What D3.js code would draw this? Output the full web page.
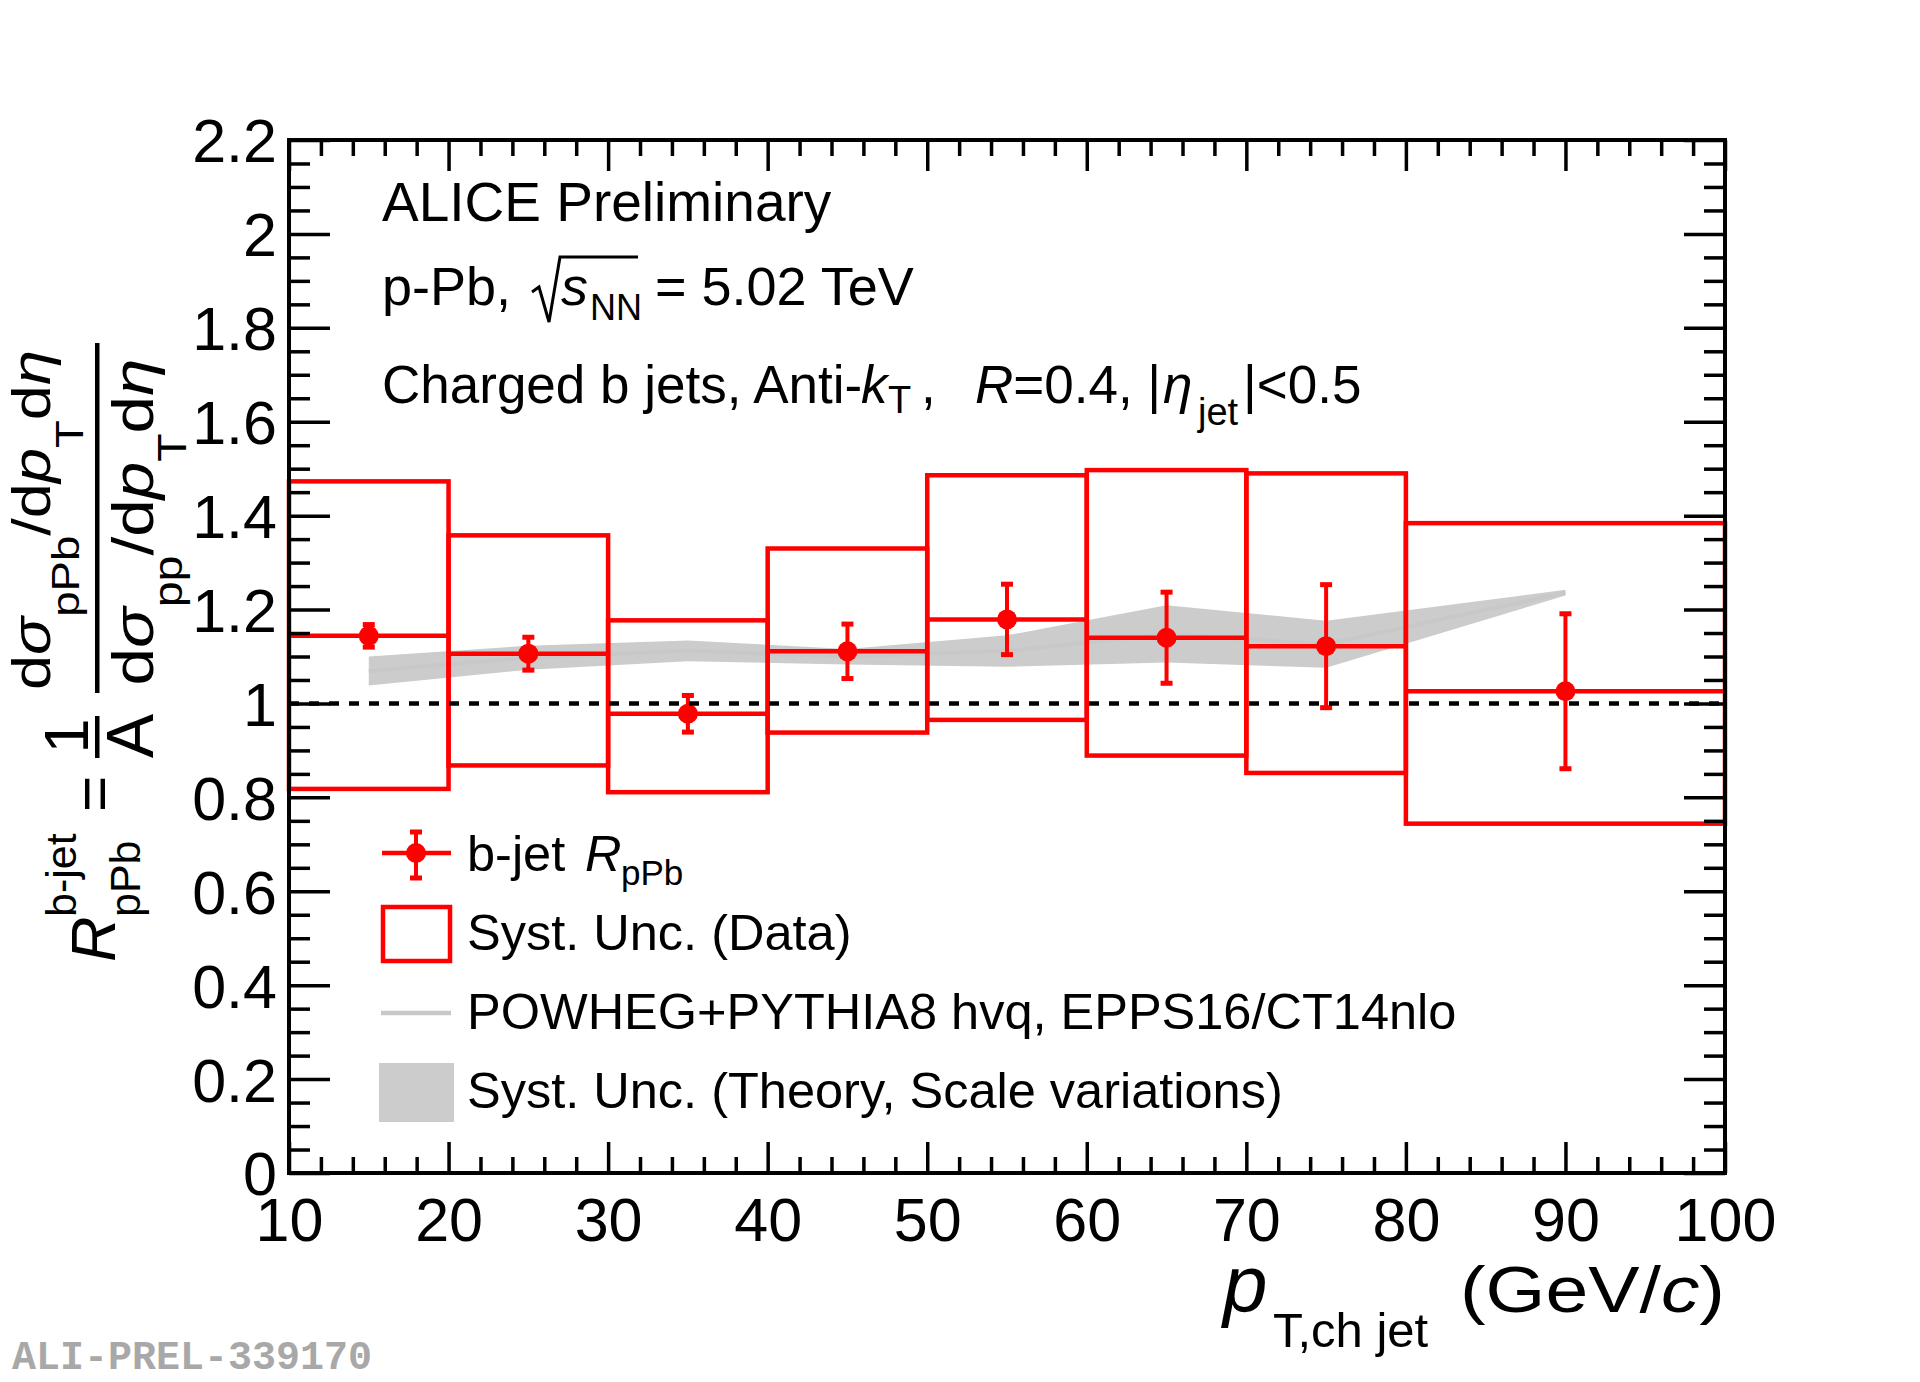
<!DOCTYPE html>
<html>
<head>
<meta charset="utf-8">
<script src="https://cdn.jsdelivr.net/npm/d3@7"></script>
<style>
  html, body { margin: 0; padding: 0; background: #ffffff; }
  svg { display: block; }
</style>
</head>
<body>
<svg id="chart" width="1920" height="1382"></svg>
<script>
// ---------------- data ----------------
const binLo    = [10, 20, 30, 40, 50, 60, 70, 80];
const binHi    = [20, 30, 40, 50, 60, 70, 80, 100];
const ptCenter = [15, 25, 35, 45, 55, 65, 75, 90];
const rpPb     = [1.144, 1.106, 0.978, 1.111, 1.179, 1.140, 1.122, 1.026];
const statErr  = [0.024, 0.035, 0.039, 0.058, 0.075, 0.097, 0.131, 0.165];
const systHi   = [1.473, 1.358, 1.177, 1.330, 1.486, 1.497, 1.490, 1.384];
const systLo   = [0.818, 0.868, 0.811, 0.938, 0.965, 0.889, 0.852, 0.744];

const theoryX       = [15, 25, 35, 45, 55, 65, 75, 90];
const theoryUp      = [1.100, 1.123, 1.134, 1.116, 1.145, 1.209, 1.176, 1.242];
const theoryLo      = [1.038, 1.072, 1.090, 1.083, 1.078, 1.087, 1.076, 1.230];
const theoryCentral = [1.069, 1.098, 1.112, 1.100, 1.112, 1.148, 1.126, 1.236];

const xTickValues = [10, 20, 30, 40, 50, 60, 70, 80, 90, 100];
const xTickLabels = ["10", "20", "30", "40", "50", "60", "70", "80", "90", "100"];
const yTickValues = [0, 0.2, 0.4, 0.6, 0.8, 1, 1.2, 1.4, 1.6, 1.8, 2, 2.2];
const yTickLabels = ["0", "0.2", "0.4", "0.6", "0.8", "1", "1.2", "1.4", "1.6", "1.8", "2", "2.2"];

// ---------------- layout ----------------
const X0 = 289, X1 = 1725, Y0 = 1173, Y1 = 140;
const RED = "#ff0000", BAND = "#cccccc", LINEGREY = "#c8c8c8";
const FONT = '"Liberation Sans", Arial, Helvetica, sans-serif';

const svg = d3.select("#chart").attr("font-family", FONT);
const x = d3.scaleLinear().domain([10, 100]).range([X0, X1]);
const y = d3.scaleLinear().domain([0, 2.2]).range([Y0, Y1]);

// theory band
const theory = theoryX.map((v, i) => ({ x: v, lo: theoryLo[i], up: theoryUp[i], c: theoryCentral[i] }));
svg.append("path").datum(theory)
  .attr("d", d3.area().x(d => x(d.x)).y0(d => y(d.lo)).y1(d => y(d.up)))
  .attr("fill", BAND);
svg.append("path").datum(theory)
  .attr("d", d3.line().x(d => x(d.x)).y(d => y(d.c)))
  .attr("fill", "none").attr("stroke", LINEGREY).attr("stroke-width", 4);

// data
const data = ptCenter.map((c, i) => ({
  c, lo: binLo[i], hi: binHi[i], v: rpPb[i], e: statErr[i], sh: systHi[i], sl: systLo[i]
}));

// systematic boxes
svg.append("g").selectAll("rect").data(data).join("rect")
  .attr("x", d => x(d.lo)).attr("width", d => x(d.hi) - x(d.lo))
  .attr("y", d => y(d.sh)).attr("height", d => y(d.sl) - y(d.sh))
  .attr("fill", "none").attr("stroke", RED).attr("stroke-width", 4.5);

// x error (bin width)
svg.append("g").selectAll("line").data(data).join("line")
  .attr("x1", d => x(d.lo)).attr("x2", d => x(d.hi))
  .attr("y1", d => y(d.v)).attr("y2", d => y(d.v))
  .attr("stroke", RED).attr("stroke-width", 4.5);

// stat error bars
const eb = svg.append("g");
eb.selectAll("line").data(data).join("line")
  .attr("x1", d => x(d.c)).attr("x2", d => x(d.c))
  .attr("y1", d => y(d.v - d.e)).attr("y2", d => y(d.v + d.e))
  .attr("stroke", RED).attr("stroke-width", 4);
eb.selectAll("rect.capT").data(data).join("rect").attr("class", "capT")
  .attr("x", d => x(d.c) - 6).attr("width", 12)
  .attr("y", d => y(d.v + d.e) - 2.5).attr("height", 5).attr("fill", RED);
eb.selectAll("rect.capB").data(data).join("rect").attr("class", "capB")
  .attr("x", d => x(d.c) - 6).attr("width", 12)
  .attr("y", d => y(d.v - d.e) - 2.5).attr("height", 5).attr("fill", RED);
eb.selectAll("circle").data(data).join("circle")
  .attr("cx", d => x(d.c)).attr("cy", d => y(d.v)).attr("r", 10).attr("fill", RED);

// unity dashed line
svg.append("line")
  .attr("x1", x(10)).attr("x2", x(100)).attr("y1", y(1)).attr("y2", y(1))
  .attr("stroke", "#000").attr("stroke-width", 4.5).attr("stroke-dasharray", "10,10");

// ---------------- axes ----------------
function isMultiple(v, step) { return Math.abs(v / step - Math.round(v / step)) < 1e-6; }
const yMinor = d3.range(0, 2.2001, 0.05).filter(v => !isMultiple(v, 0.2));
const xMinor = d3.range(10, 100.001, 2).filter(v => !isMultiple(v, 10));

function styleAxis(g) {
  g.select(".domain").remove();
  g.selectAll(".tick line").attr("stroke-width", 3.5);
  g.attr("font-size", 61).attr("font-family", FONT);
}

// left
svg.append("g").attr("transform", `translate(${X0},0)`)
  .call(d3.axisLeft(y).tickValues(yTickValues).tickSize(-41).tickPadding(12)
    .tickFormat((d, i) => yTickLabels[i]))
  .call(styleAxis)
  .call(g => g.selectAll(".tick text").attr("dy", "0.36em"));
svg.append("g").attr("transform", `translate(${X0},0)`)
  .call(d3.axisLeft(y).tickValues(yMinor).tickSize(-21).tickFormat(""))
  .call(styleAxis);
// right
svg.append("g").attr("transform", `translate(${X1},0)`)
  .call(d3.axisRight(y).tickValues(yTickValues).tickSize(-41).tickFormat(""))
  .call(styleAxis);
svg.append("g").attr("transform", `translate(${X1},0)`)
  .call(d3.axisRight(y).tickValues(yMinor).tickSize(-21).tickFormat(""))
  .call(styleAxis);
// bottom
svg.append("g").attr("transform", `translate(0,${Y0})`)
  .call(d3.axisBottom(x).tickValues(xTickValues).tickSize(-31).tickPadding(25)
    .tickFormat((d, i) => xTickLabels[i]))
  .call(styleAxis);
svg.append("g").attr("transform", `translate(0,${Y0})`)
  .call(d3.axisBottom(x).tickValues(xMinor).tickSize(-16).tickFormat(""))
  .call(styleAxis);
// top
svg.append("g").attr("transform", `translate(0,${Y1})`)
  .call(d3.axisTop(x).tickValues(xTickValues).tickSize(-31).tickFormat(""))
  .call(styleAxis);
svg.append("g").attr("transform", `translate(0,${Y1})`)
  .call(d3.axisTop(x).tickValues(xMinor).tickSize(-16).tickFormat(""))
  .call(styleAxis);

// frame
svg.append("rect").attr("x", X0).attr("y", Y1).attr("width", X1 - X0).attr("height", Y0 - Y1)
  .attr("fill", "none").attr("stroke", "#000").attr("stroke-width", 4);

// ---------------- x title ----------------
svg.append("text").attr("x", 1223).attr("y", 1311).attr("font-size", 80)
  .attr("font-style", "italic").text("p");
svg.append("text").attr("x", 1273).attr("y", 1347).attr("font-size", 49).text("T,ch jet");
const xt2 = svg.append("text").attr("x", 1460).attr("y", 1312).attr("font-size", 64)
  .attr("textLength", 265).attr("lengthAdjust", "spacingAndGlyphs");
xt2.append("tspan").text("(GeV/");
xt2.append("tspan").attr("font-style", "italic").text("c");
xt2.append("tspan").text(")");

// ---------------- y title ----------------
const yt = svg.append("g").attr("transform", "translate(115,962) rotate(-90)");
yt.append("text").attr("x", 0).attr("y", 0).attr("font-size", 63).attr("font-style", "italic").text("R");
yt.append("text").attr("x", 45).attr("y", -39).attr("font-size", 43).text("b-jet");
yt.append("text").attr("x", 45).attr("y", 25).attr("font-size", 43).text("pPb");
yt.append("text").attr("x", 150).attr("y", 0).attr("font-size", 62).text("=");
yt.append("text").attr("x", 226).attr("y", -27).attr("font-size", 63).attr("text-anchor", "middle").text("1");
yt.append("rect").attr("x", 204).attr("y", -20).attr("width", 42).attr("height", 4.5).attr("fill", "#000");
yt.append("text").attr("x", 226).attr("y", 38).attr("font-size", 66).attr("text-anchor", "middle").text("A");
yt.append("rect").attr("x", 269).attr("y", -20).attr("width", 350).attr("height", 4.5).attr("fill", "#000");

function fracPart(cx, base, len, sub, fs, sfs) {
  const t = yt.append("text").attr("x", cx).attr("y", base).attr("font-size", fs)
    .attr("text-anchor", "middle").attr("textLength", len).attr("lengthAdjust", "spacingAndGlyphs");
  t.append("tspan").text("d");
  t.append("tspan").attr("font-style", "italic").text("σ");
  t.append("tspan").attr("font-size", sfs).attr("dy", 29).text(sub);
  t.append("tspan").attr("dy", -29).text("/d");
  t.append("tspan").attr("font-style", "italic").text("p");
  t.append("tspan").attr("font-size", sfs).attr("dy", 33).text("T");
  t.append("tspan").attr("dy", -33).text("d");
  t.append("tspan").attr("font-style", "italic").text("η");
}
fracPart(442, -65, 340, "pPb", 54, 39);
fracPart(440, 38, 327, "pp", 58, 40);

// ---------------- header text ----------------
svg.append("text").attr("x", 382).attr("y", 221).attr("font-size", 55).text("ALICE Preliminary");

svg.append("text").attr("x", 382).attr("y", 305).attr("font-size", 54).text("p-Pb,");
svg.append("path").attr("d", "M532,292 L539,287 L549,322 L560,257 L638,257")
  .attr("fill", "none").attr("stroke", "#000").attr("stroke-width", 3).attr("stroke-linejoin", "miter");
svg.append("text").attr("x", 561).attr("y", 305).attr("font-size", 54).attr("font-style", "italic").text("s");
svg.append("text").attr("x", 590).attr("y", 320).attr("font-size", 36).text("NN");
svg.append("text").attr("x", 655).attr("y", 305).attr("font-size", 54).text("= 5.02 TeV");

const l3 = svg.append("text").attr("y", 403).attr("font-size", 53);
l3.append("tspan").attr("x", 382).text("Charged b jets, Anti-");
l3.append("tspan").attr("x", 861).attr("font-style", "italic").text("k");
l3.append("tspan").attr("x", 888).attr("font-size", 38).attr("dy", 10).text("T");
l3.append("tspan").attr("x", 921).attr("dy", -10).text(",");
l3.append("tspan").attr("x", 975).attr("font-style", "italic").text("R");
l3.append("tspan").text("=0.4, |");
l3.append("tspan").attr("x", 1163).attr("font-style", "italic").text("η");
l3.append("tspan").attr("x", 1198).attr("font-size", 38).attr("dy", 22).text("jet");
l3.append("tspan").attr("x", 1243).attr("dy", -22).text("|<0.5");

// ---------------- legend ----------------
const lg = svg.append("g");
// entry 1
lg.append("line").attr("x1", 382).attr("x2", 451).attr("y1", 853).attr("y2", 853)
  .attr("stroke", RED).attr("stroke-width", 4.5);
lg.append("line").attr("x1", 416).attr("x2", 416).attr("y1", 832).attr("y2", 878)
  .attr("stroke", RED).attr("stroke-width", 4);
lg.append("rect").attr("x", 410).attr("y", 829.5).attr("width", 12).attr("height", 5).attr("fill", RED);
lg.append("rect").attr("x", 410).attr("y", 875.5).attr("width", 12).attr("height", 5).attr("fill", RED);
lg.append("circle").attr("cx", 416).attr("cy", 853).attr("r", 10).attr("fill", RED);
const le1 = lg.append("text").attr("x", 467).attr("y", 871).attr("font-size", 50.5);
le1.append("tspan").text("b-jet ");
le1.append("tspan").attr("x", 585).attr("font-style", "italic").text("R");
le1.append("tspan").attr("x", 621).attr("font-size", 35).attr("dy", 14).text("pPb");
// entry 2
lg.append("rect").attr("x", 383).attr("y", 907).attr("width", 67).attr("height", 54)
  .attr("fill", "none").attr("stroke", RED).attr("stroke-width", 4.5);
lg.append("text").attr("x", 467).attr("y", 950).attr("font-size", 50.5).text("Syst. Unc. (Data)");
// entry 3
lg.append("line").attr("x1", 381).attr("x2", 451).attr("y1", 1013).attr("y2", 1013)
  .attr("stroke", LINEGREY).attr("stroke-width", 4.5);
lg.append("text").attr("x", 467).attr("y", 1029).attr("font-size", 50.5).text("POWHEG+PYTHIA8 hvq, EPPS16/CT14nlo");
// entry 4
lg.append("rect").attr("x", 379).attr("y", 1063).attr("width", 75).attr("height", 59).attr("fill", BAND);
lg.append("text").attr("x", 467).attr("y", 1108).attr("font-size", 50.5).text("Syst. Unc. (Theory, Scale variations)");

// watermark
svg.append("text").attr("x", 12).attr("y", 1369).attr("font-size", 40)
  .style("font-family", '"Liberation Mono", "DejaVu Sans Mono", monospace').attr("font-weight", "bold")
  .attr("fill", "#a8a8a8").text("ALI-PREL-339170");
</script>
</body>
</html>
